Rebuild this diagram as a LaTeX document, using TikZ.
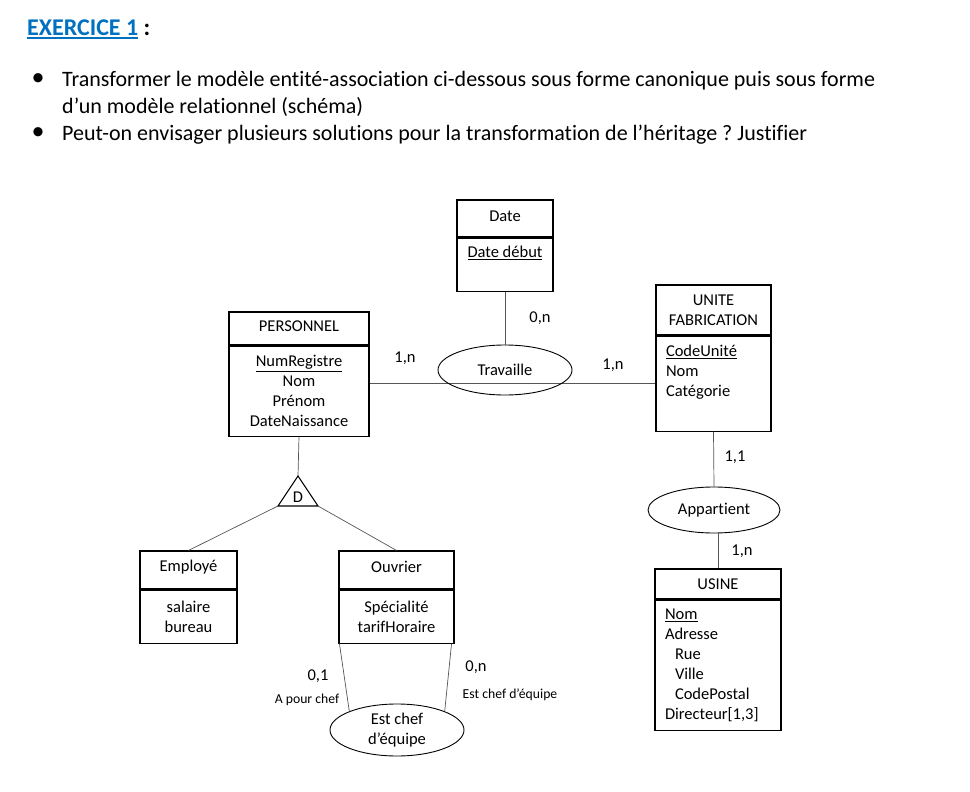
\documentclass[tikz,border=0pt]{standalone}
\usepackage{fontspec}
\setmainfont{Carlito}[Ligatures=NoCommon]
\usetikzlibrary{positioning, shapes.geometric}
\definecolor{exblue}{RGB}{0,112,192}
\definecolor{linkgray}{RGB}{85,85,85}
\newcommand{\thickul}[1]{\leavevmode\setbox0\hbox{#1}\rlap{\rule[-3.5pt]{\wd0}{1.5pt}}\box0}
\frenchspacing

\begin{document}
\begin{tikzpicture}[x=1pt, y=-1pt,
    every node/.style={font=\fontsize{16.5}{20}\selectfont, inner sep=0pt},
    ent/.style={draw, line width=1.1pt, inner sep=0pt},
    rel/.style={draw, ellipse, line width=0.9pt, inner sep=0pt},
    link/.style={draw=linkgray, line width=0.7pt},
    card/.style={font=\fontsize{16.5}{20}\selectfont},
    role/.style={font=\fontsize{13.7}{16}\selectfont},
    txt/.style={font=\fontsize{22}{26}\selectfont, anchor=west}]
  \useasboundingbox (0,0) rectangle (970,792);

  % Heading
  \node[font=\fontsize{24}{26}\selectfont\bfseries, anchor=west] (title) at (27,29)
    {\textcolor{exblue}{\thickul{EXERCICE 1}} :};
  \node[font=\fontsize{26}{26}\selectfont] (b1) at (38,80) {•};
  \node[font=\fontsize{26}{26}\selectfont] (b2) at (38,134) {•};
  \node[txt] (q1) at (62,81) {Transformer le modèle entité-association ci-dessous sous forme canonique puis sous forme};
  \node[txt] (q1b) at (62,107) {d’un modèle relationnel (schéma)};
  \node[txt] (q2) at (62,135) {Peut-on envisager plusieurs solutions pour la transformation de l’héritage ? Justifier};

  % Entities
  \node[ent, minimum width=96, minimum height=37, text depth=5pt] (date) at (505,218.5) {Date};
  \node[ent, minimum width=96, minimum height=53, below=0pt of date, align=center] (dateb) {\underline{Date début}\\[6pt]~};

  \node[ent, minimum width=140, minimum height=33, text depth=4pt] (pers) at (299,328.5) {PERSONNEL};
  \node[ent, minimum width=140, minimum height=90, below=0pt of pers, align=center] (persb)
    {\underline{NumRegistre}\\Nom\\Prénom\\DateNaissance};

  \node[ent, minimum width=115, minimum height=50, align=center] (ufab) at (713.5,310) {UNITE\\FABRICATION};
  \node[ent, minimum width=115, minimum height=95, below=0pt of ufab, text width=95, inner xsep=10, align=left] (ufabb)
    {\underline{CodeUnité}\\Nom\\Catégorie\\[6pt]~};

  \node[ent, minimum width=126, minimum height=30] (usine) at (718,584) {USINE};
  \node[ent, minimum width=126, minimum height=130, below=0pt of usine, text width=106, inner xsep=10, align=left] (usineb)
    {\underline{Nom}\\Adresse\\\hspace*{10pt}Rue\\\hspace*{10pt}Ville\\\hspace*{10pt}CodePostal\\Directeur[1,3]};

  \node[ent, minimum width=97, minimum height=38, text depth=9pt] (emp) at (188.5,570) {Employé};
  \node[ent, minimum width=97, minimum height=53, below=0pt of emp, align=center] (empb) {salaire\\bureau};

  \node[ent, minimum width=115, minimum height=38, text depth=6pt] (ouv) at (396.5,570) {Ouvrier};
  \node[ent, minimum width=115, minimum height=53, below=0pt of ouv, align=center] (ouvb) {Spécialité\\tarifHoraire};

  % Associations
  \draw[link] (ufabb.west) -- (ufabb.west -| persb.east);
  \node[rel, minimum width=134, minimum height=50] (trav) at (505,370) {Travaille};
  \node[rel, minimum width=132, minimum height=46] (app) at (714,510) {Appartient};
  \node[rel, minimum width=134, minimum height=52, align=center] (chef) at (397,730) {Est chef\\d’équipe};

  % Inheritance
  \coordinate (dtop) at (298,476);
  \coordinate (dleft) at (278,506);
  \coordinate (dright) at (318,506);
  \draw[line width=1.1pt] (dtop) -- (dright) -- (dleft) -- cycle;
  \node (dlabel) at (298,497) {D};

  % Links
  \draw[link] (dateb.south) -- (trav.north);
  \draw[link] (ufabb.south) -- (app.north);
  \draw[link] (usine.north) -- (usine.north |- app.south);
  \draw[link] (persb.south) -- (dtop);
  \draw[link] (dleft) -- (emp.north);
  \draw[link] (dright) -- (ouv.north);
  \draw[link] ([xshift=1pt]ouvb.south west) -- (chef.north west);
  \draw[link] ([xshift=-3pt]ouvb.south east) -- (chef.north east);

  % Cardinalities
  \node[card] (c1) at (405,358) {1,n};
  \node[card] (c2) at (540,318) {0,n};
  \node[card] (c3) at (613,365) {1,n};
  \node[card] (c4) at (735,457) {1,1};
  \node[card] (c5) at (742,551) {1,n};
  \node[card] (c6) at (318,676) {0,1};
  \node[card] (c7) at (476,667) {0,n};
  \node[role] (r1) at (307,700) {A pour chef};
  \node[role] (r2) at (510,695) {Est chef d’équipe};
\end{tikzpicture}
\end{document}
